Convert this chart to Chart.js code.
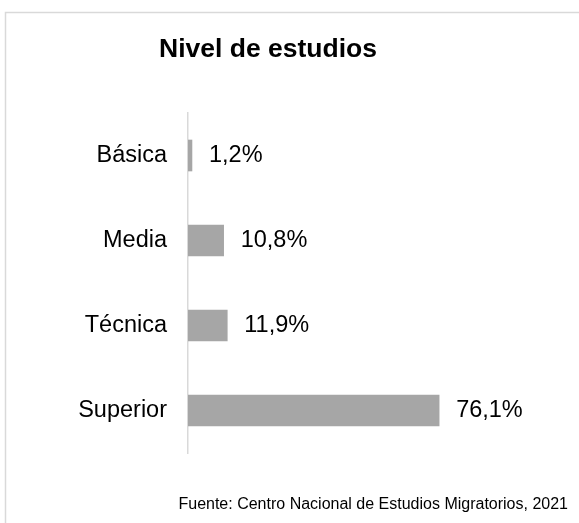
<!DOCTYPE html>
<html>
<head>
<meta charset="utf-8">
<script src="https://cdn.jsdelivr.net/npm/chart.js@4/dist/chart.umd.min.js"></script>
<style>
  html, body { margin: 0; padding: 0; background: #fff; }
  #wrap { position: relative; width: 579px; height: 523px; }
</style>
</head>
<body>
<div id="wrap"><canvas id="chart" width="579" height="523"></canvas></div>
<script>
// Chart data
const categories = ['Básica', 'Media', 'Técnica', 'Superior'];
const percentages = [1.2, 10.8, 11.9, 76.1];
const chartTitle = 'Nivel de estudios';
const sourceNote = 'Fuente: Centro Nacional de Estudios Migratorios, 2021';

const FONT = 'Arial, "Liberation Sans", Helvetica, sans-serif';

// Frame, title and source note
const decorPlugin = {
    id: 'decor',
    beforeDraw(chart) {
        const ctx = chart.ctx;
        ctx.save();
        ctx.strokeStyle = '#d9d9d9';
        ctx.lineWidth = 1.5;
        ctx.beginPath();
        ctx.moveTo(5.5, 523);
        ctx.lineTo(5.5, 12.5);
        ctx.lineTo(579, 12.5);
        ctx.stroke();
        ctx.restore();
    },
    afterDraw(chart) {
        const ctx = chart.ctx;
        ctx.save();
        ctx.fillStyle = '#000';
        ctx.textBaseline = 'middle';
        ctx.textAlign = 'center';
        ctx.font = 'bold 26.5px ' + FONT;
        ctx.fillText(chartTitle, 268, 50);
        ctx.textAlign = 'right';
        ctx.font = '16px ' + FONT;
        ctx.fillText(sourceNote, 568, 505);
        ctx.restore();
    }
};

// Value labels at the end of each bar
const valueLabels = {
    id: 'valueLabels',
    afterDatasetsDraw(chart) {
        const ctx = chart.ctx;
        const meta = chart.getDatasetMeta(0);
        ctx.save();
        ctx.fillStyle = '#000';
        ctx.font = '23.5px ' + FONT;
        ctx.textAlign = 'left';
        ctx.textBaseline = 'middle';
        meta.data.forEach((bar, i) => {
            const txt = percentages[i].toFixed(1).replace('.', ',') + '%';
            ctx.fillText(txt, bar.x + 17, bar.y);
        });
        ctx.restore();
    }
};

new Chart(document.querySelector('#chart'), {
    type: 'bar',
    data: {
        labels: categories,
        datasets: [{
            data: percentages,
            backgroundColor: '#a6a6a6',
            borderWidth: 0,
            barThickness: 31
        }]
    },
    options: {
        indexAxis: 'y',
        responsive: false,
        animation: false,
        layout: { padding: { left: 0, right: 61, top: 113, bottom: 70 } },
        plugins: {
            legend: { display: false },
            title: { display: false },
            tooltip: { enabled: false }
        },
        scales: {
            x: { display: false, min: 0, max: 100 },
            y: {
                afterFit(scale) { scale.width = 188; },
                grid: { display: false, drawTicks: false },
                border: { display: true, color: '#d9d9d9', width: 1.5 },
                ticks: {
                    color: '#000',
                    padding: 21,
                    font: { family: FONT, size: 23.5 }
                }
            }
        }
    },
    plugins: [decorPlugin, valueLabels]
});
</script>
</body>
</html>
